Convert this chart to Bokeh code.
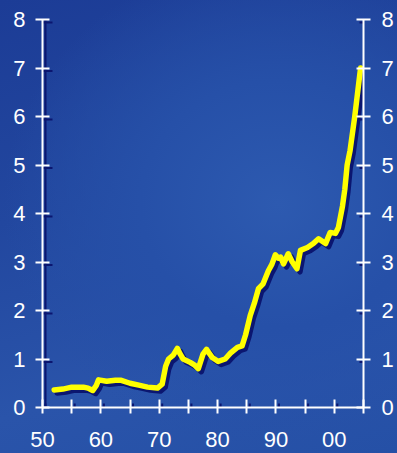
import math
from bokeh.plotting import figure
from bokeh.models import (LinearAxis, FixedTicker, Range1d, ColumnDataSource,
                          LabelSet, Span)
from bokeh.layouts import column
from bokeh.embed import file_html
from bokeh.resources import INLINE

years = [1952, 1953.5, 1955, 1957, 1957.8, 1958.6, 1959.2, 1959.6, 1961, 1962.5,
         1963.5, 1965, 1966.5, 1968, 1969.7, 1970.5, 1971.1, 1971.6, 1972.4, 1973.1,
         1973.6, 1974.1, 1975.3, 1976, 1976.7, 1977.5, 1978.1, 1979.1, 1980.1, 1981.3,
         1982.2, 1983.4, 1984.2, 1984.8, 1985.6, 1986.3, 1987.0, 1987.8, 1988.7, 1989.3,
         1989.9, 1990.4, 1990.8, 1991.3, 1992.1, 1992.8, 1993.6, 1994.2, 1995.4, 1996.4,
         1997.3, 1998.5, 1999.3, 2000.2, 2000.7, 2001.4, 2001.8, 2002.2, 2002.7, 2003.5,
         2004.0, 2004.5]
values = [0.36, 0.38, 0.42, 0.42, 0.40, 0.35, 0.45, 0.57, 0.54, 0.56,
          0.56, 0.50, 0.46, 0.42, 0.40, 0.48, 0.85, 1.00, 1.08, 1.22,
          1.10, 1.00, 0.93, 0.88, 0.80, 1.10, 1.20, 1.03, 0.95, 1.00,
          1.12, 1.24, 1.27, 1.50, 1.90, 2.15, 2.45, 2.55, 2.82, 2.95,
          3.15, 3.08, 3.10, 2.96, 3.17, 3.00, 2.86, 3.24, 3.30, 3.38,
          3.48, 3.38, 3.61, 3.59, 3.71, 4.15, 4.50, 5.00, 5.30, 6.00,
          6.50, 7.00]

x_ticks = [1950, 1955, 1960, 1965, 1970, 1975, 1980, 1985, 1990, 1995, 2000, 2005]
x_labels = ["50", "", "60", "", "70", "", "80", "", "90", "", "00", ""]
y_ticks = [0, 1, 2, 3, 4, 5, 6, 7, 8]
y_labels = [str(v) for v in y_ticks]

FONT = "Liberation Sans"
WHITE = "#ffffff"
SHADOW = "#0b1670"
YELLOW = "#ffff00"
FSIZE = "22px"

W, H = 397, 453
BL, BR, BT, BB = 42, 34, 19, 46
X0, X1, Y0, Y1 = 1950, 2005, 0, 8
OFF = 3  # shadow offset in pixels
dx = OFF * (X1 - X0) / (W - BL - BR)
dy = OFF * (Y1 - Y0) / (H - BT - BB)

Y_TIN, Y_TOUT, YL_STAND, YR_STAND = 7, 7, 10, 11
X_TIN, X_TOUT, X_STAND = 8, 6, 18

BG = ("radial-gradient(ellipse at 70% 45%, #2d5ab0 0%, #2650a8 35%, rgba(0,0,0,0) 70%), "
      "linear-gradient(165deg, #1c3c96 0%, #22479f 40%, #2a54aa 75%, #2550a6 100%)")

p = figure(width=W, height=H, output_backend="svg", toolbar_location=None,
           x_range=Range1d(X0, X1), y_range=Range1d(Y0, Y1),
           min_border_left=BL, min_border_right=BR, min_border_top=BT, min_border_bottom=BB)
p.extra_x_ranges = {"sx": Range1d(X0 - dx, X1 - dx)}
p.extra_y_ranges = {"sy": Range1d(Y0 + dy, Y1 + dy)}
p.background_fill_alpha = 0
p.border_fill_alpha = 0
p.outline_line_color = None
p.grid.visible = False

# ---- shadows ----
for loc in (X0 + dx, X1 + dx):
    p.add_layout(Span(location=loc, dimension="height", line_color=SHADOW,
                      line_width=2, level="glyph"))
p.add_layout(Span(location=Y0 - dy, dimension="width", line_color=SHADOW,
                  line_width=2, level="glyph"))

for xs in ([X0] * len(y_ticks), [X1] * len(y_ticks)):
    p.scatter(xs, y_ticks, marker="dash", size=Y_TIN + Y_TOUT,
              line_color=SHADOW, line_width=2, x_range_name="sx", y_range_name="sy")
p.scatter(x_ticks, [Y0] * len(x_ticks), marker="dash", angle=math.pi / 2,
          size=X_TIN + X_TOUT, line_color=SHADOW, line_width=2,
          x_range_name="sx", y_range_name="sy")

p.line(years, values, line_color=SHADOW, line_width=5.5, line_join="round",
       line_cap="round", x_range_name="sx", y_range_name="sy")

lab_style = dict(text_color=SHADOW, text_font=FONT, text_font_size=FSIZE, level="glyph")
left_src = ColumnDataSource(dict(x=[X0] * len(y_ticks), y=y_ticks, t=y_labels))
right_src = ColumnDataSource(dict(x=[X1] * len(y_ticks), y=y_ticks, t=y_labels))
bx = [x for x, l in zip(x_ticks, x_labels) if l]
bl = [l for l in x_labels if l]
bottom_src = ColumnDataSource(dict(x=bx, y=[Y0] * len(bx), t=bl))
p.add_layout(LabelSet(x="x", y="y", text="t", source=left_src,
                      x_offset=-(Y_TOUT + YL_STAND) + OFF, y_offset=-OFF,
                      text_align="right", text_baseline="middle", **lab_style))
p.add_layout(LabelSet(x="x", y="y", text="t", source=right_src,
                      x_offset=(Y_TOUT + YR_STAND) + OFF, y_offset=-OFF,
                      text_align="left", text_baseline="middle", **lab_style))
p.add_layout(LabelSet(x="x", y="y", text="t", source=bottom_src,
                      x_offset=OFF, y_offset=-(X_TOUT + X_STAND) - OFF,
                      text_align="center", text_baseline="top", **lab_style))

# ---- main line ----
p.line(years, values, line_color=YELLOW, line_width=5.5, line_join="round", line_cap="round")

def style_axis(ax, ticks, tin, tout, standoff):
    ax.ticker = FixedTicker(ticks=ticks)
    ax.axis_line_color = WHITE
    ax.axis_line_width = 2
    ax.major_tick_line_color = WHITE
    ax.major_tick_line_width = 2
    ax.major_tick_in = tin
    ax.major_tick_out = tout
    ax.minor_tick_line_color = None
    ax.major_label_text_color = WHITE
    ax.major_label_text_font = FONT
    ax.major_label_text_font_size = FSIZE
    ax.major_label_standoff = standoff

xa = p.xaxis[0]
style_axis(xa, x_ticks, X_TIN, X_TOUT, X_STAND)
xa.major_label_overrides = {t: l for t, l in zip(x_ticks, x_labels)}

ya = p.yaxis[0]
style_axis(ya, y_ticks, Y_TIN, Y_TOUT, YL_STAND)

yr = LinearAxis()
style_axis(yr, y_ticks, Y_TIN, Y_TOUT, YR_STAND)
p.add_layout(yr, "right")

page = column(p, width=W, height=H, sizing_mode="fixed", styles={"background": BG})

open("out.html", "w").write(file_html(page, INLINE))
